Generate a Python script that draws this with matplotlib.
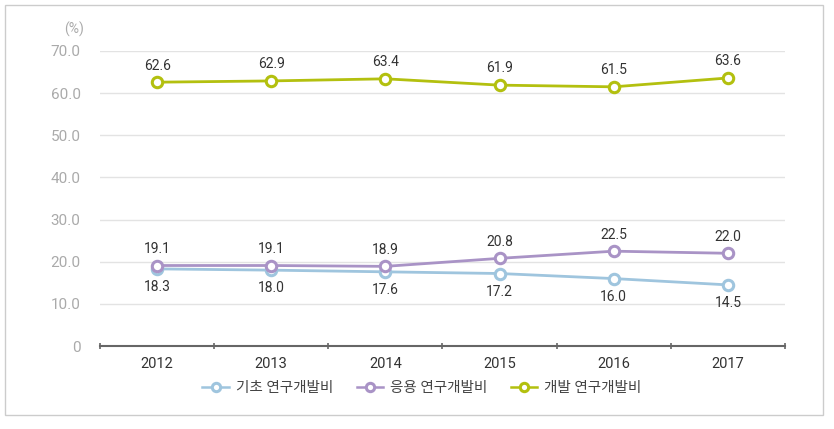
import matplotlib
matplotlib.use('Agg')
import matplotlib.pyplot as plt
from matplotlib.patches import Rectangle

plt.rcParams['font.family'] = ['Roboto', 'Noto Sans CJK KR', 'DejaVu Sans']

years = ['2012', '2013', '2014', '2015', '2016', '2017']
basic = [18.3, 18.0, 17.6, 17.2, 16.0, 14.5]
applied = [19.1, 19.1, 18.9, 20.8, 22.5, 22.0]
develop = [62.6, 62.9, 63.4, 61.9, 61.5, 63.6]
series_names = ['기초 연구개발비', '응용 연구개발비', '개발 연구개발비']
y_ticks = [0, 10, 20, 30, 40, 50, 60, 70]
y_tick_labels = ['0', '10.0', '20.0', '30.0', '40.0', '50.0', '60.0', '70.0']


def main():
    fig = plt.figure(figsize=(8.34, 4.29), dpi=100)
    fig.patches.append(Rectangle((5 / 834, 14 / 429), 818 / 834, 410 / 429,
                                 transform=fig.transFigure, fill=False,
                                 edgecolor='#cccccc', linewidth=1))
    ax = fig.add_axes([100 / 834, 1 - 346 / 429, 685 / 834, 295 / 429])

    x = list(range(len(years)))
    colors = ['#9fc5de', '#a993c6', '#b3c00f']
    data = [basic, applied, develop]
    offsets = [-13, 12, 12]
    for vals, name, col, off in zip(data, series_names, colors, offsets):
        ax.plot(x, vals, color=col, linewidth=2.0, marker='o', markersize=7.5,
                markerfacecolor='white', markeredgecolor=col, markeredgewidth=2.2,
                label=name, zorder=3)
        for xi, v in zip(x, vals):
            ax.annotate(f'{v:.1f}', (xi, v), xytext=(0, off), textcoords='offset points',
                        ha='center', va='center', fontsize=10, color='#333333')

    ax.set_xlim(-0.5, len(years) - 0.5)
    ax.set_ylim(0, 70)
    ax.set_yticks(y_ticks)
    ax.set_yticklabels(y_tick_labels)
    ax.set_xticks(x)
    ax.set_xticklabels(years)
    ax.set_xticks([i - 0.5 for i in range(len(years) + 1)], minor=True)
    ax.tick_params(axis='x', which='major', length=0, pad=8, labelsize=10.5, labelcolor='#333333')
    ax.tick_params(axis='x', which='minor', length=5, direction='inout', color='#666666', width=1.2)
    ax.tick_params(axis='y', length=0, pad=14, labelsize=11, labelcolor='#aaaaaa')
    for s in ['top', 'right', 'left']:
        ax.spines[s].set_visible(False)
    ax.spines['bottom'].set_color('#666666')
    ax.spines['bottom'].set_linewidth(1.5)
    ax.grid(axis='y', color='#e3e3e3', linewidth=1)
    ax.set_axisbelow(True)

    fig.text(84 / 834, 1 - 29 / 429, '(%)', ha='right', va='center', fontsize=10, color='#aaaaaa')

    leg = ax.legend(loc='upper center', bbox_to_anchor=(0.47, -0.075), ncol=3, frameon=False,
                    fontsize=10.5, labelcolor='#444444', handlelength=1.8, columnspacing=1.6,
                    handletextpad=0.5, markerscale=0.8)
    for h in leg.legend_handles:
        h.set_linewidth(1.8)

    fig.savefig('out.png', dpi=100)


if __name__ == "__main__":
    main()
